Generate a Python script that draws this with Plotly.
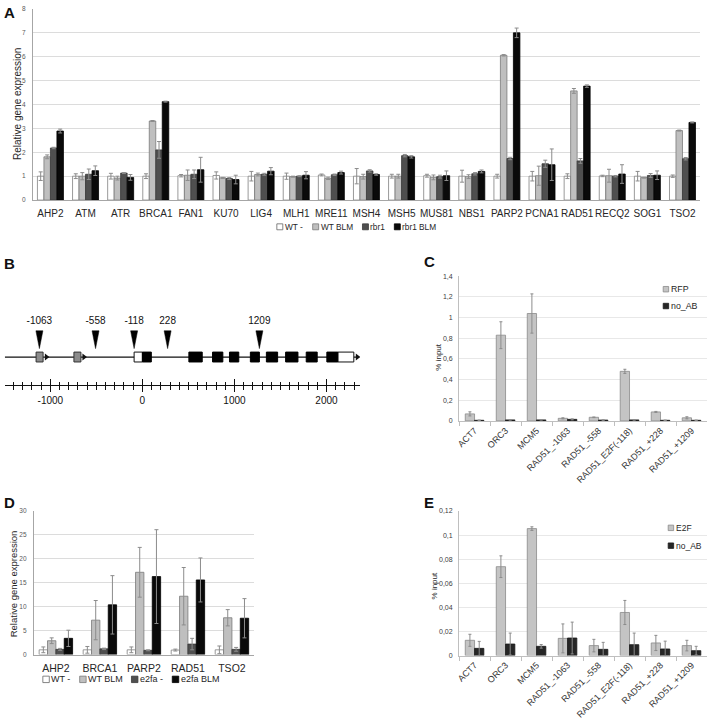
import plotly.graph_objects as go

W, H = 709, 720
FONT = "Liberation Sans, Arial, sans-serif"

# ---------------- Panel A data ----------------
genes_a = ["AHP2", "ATM", "ATR", "BRCA1", "FAN1", "KU70", "LIG4", "MLH1", "MRE11", "MSH4",
           "MSH5", "MUS81", "NBS1", "PARP2", "PCNA1", "RAD51", "RECQ2", "SOG1", "TSO2"]
a_wt = [1.0, 1.0, 1.0, 1.0, 1.02, 1.03, 1.0, 1.0, 1.05, 1.0, 1.0, 1.02, 1.0, 1.0, 1.0, 1.0, 1.01, 1.0, 1.0]
a_wt_err = [0.18, 0.1, 0.12, 0.1, 0.05, 0.15, 0.2, 0.13, 0.04, 0.32, 0.08, 0.06, 0.25, 0.08, 0.2, 0.1, 0.03, 0.2, 0.05]
a_wtblm = [1.81, 1.0, 0.92, 3.31, 1.04, 0.93, 1.07, 0.98, 0.91, 0.98, 1.0, 0.95, 0.98, 6.06, 1.02, 4.57, 1.02, 0.94, 2.91]
a_wtblm_err = [0.08, 0.15, 0.08, 0.02, 0.22, 0.02, 0.06, 0.02, 0.05, 0.1, 0.08, 0.1, 0.08, 0.03, 0.4, 0.1, 0.27, 0.02, 0.02]
a_rbr1 = [2.18, 1.08, 1.13, 2.1, 1.08, 0.9, 1.08, 1.0, 1.06, 1.22, 1.86, 0.98, 1.1, 1.74, 1.52, 1.64, 1.0, 1.03, 1.73]
a_rbr1_err = [0.03, 0.22, 0.02, 0.35, 0.18, 0.04, 0.04, 0.02, 0.03, 0.05, 0.05, 0.06, 0.05, 0.05, 0.15, 0.1, 0.03, 0.08, 0.05]
a_rbr1blm = [2.89, 1.23, 0.95, 4.12, 1.27, 0.86, 1.21, 1.04, 1.15, 1.07, 1.81, 1.02, 1.2, 7.0, 1.48, 4.77, 1.09, 1.04, 3.25]
a_rbr1blm_err = [0.08, 0.2, 0.12, 0.02, 0.52, 0.18, 0.15, 0.15, 0.06, 0.03, 0.05, 0.2, 0.06, 0.2, 0.66, 0.05, 0.39, 0.18, 0.02]
names_a = ["WT -", "WT BLM", "rbr1", "rbr1 BLM"]

# ---------------- Panel B data (RAD51 locus, bp) ----------------
promoter_start = [-1155, -744]
promoter_end = [-1079, -668]
utr_start = [-90, 2123]
utr_end = [0, 2297]
exon_start = [0, 505, 762, 946, 1173, 1347, 1556, 1780, 2004]
exon_end = [97, 650, 874, 1047, 1271, 1469, 1690, 1899, 2123]
tss_arrows = [-1043, -635, 2335]
gene_span = [-1495, 2330]
probe_pos = [-1119, -509, -90, 274, 1271]
probe_labels = ["-1063", "-558", "-118", "228", "1209"]
b_major_ticks = [-1000, 0, 1000, 2000]
b_major_labels = ["-1000", "0", "1000", "2000"]

# ---------------- Panel C data ----------------
chip_sites = ["ACT7", "ORC3", "MCM5", "RAD51_-1063", "RAD51_-558", "RAD51_E2F(-118)", "RAD51_+228", "RAD51_+1209"]
c_rfp = [0.068, 0.83, 1.04, 0.025, 0.035, 0.48, 0.087, 0.03]
c_rfp_err = [0.02, 0.13, 0.19, 0.005, 0.003, 0.02, 0.005, 0.01]
c_noab = [0.006, 0.01, 0.01, 0.015, 0.008, 0.01, 0.006, 0.006]
c_noab_err = [0.002, 0.003, 0.002, 0.005, 0.002, 0.003, 0.002, 0.002]
names_c = ["RFP", "no_AB"]

# ---------------- Panel D data ----------------
genes_d = ["AHP2", "BRCA1", "PARP2", "RAD51", "TSO2"]
d_wt = [1.0, 1.0, 1.0, 0.95, 1.0]
d_wt_err = [0.6, 0.7, 0.6, 0.2, 0.8]
d_wtblm = [2.9, 7.2, 17.2, 12.2, 7.7]
d_wtblm_err = [0.6, 4.1, 5.2, 6.0, 1.7]
d_e2fa = [1.1, 1.2, 0.9, 2.2, 1.1]
d_e2fa_err = [0.2, 0.15, 0.1, 1.2, 0.4]
d_e2fablm = [3.4, 10.4, 16.3, 15.6, 7.6]
d_e2fablm_err = [1.7, 6.1, 9.8, 4.6, 4.1]
names_d = ["WT -", "WT BLM", "e2fa -", "e2fa BLM"]

# ---------------- Panel E data ----------------
e_e2f = [0.0127, 0.0738, 0.1054, 0.0143, 0.0083, 0.0358, 0.0105, 0.0083]
e_e2f_err = [0.005, 0.009, 0.0015, 0.012, 0.0052, 0.010, 0.0063, 0.0044]
e_noab = [0.006, 0.0096, 0.0077, 0.0146, 0.0052, 0.0091, 0.0055, 0.0041]
e_noab_err = [0.0058, 0.0091, 0.0015, 0.0132, 0.0058, 0.0096, 0.0065, 0.0036]
names_e = ["E2F", "no_AB"]

# ---------------- styles ----------------
FILL4 = ["#ffffff", "#bfbfbf", "#4f4f4f", "#0a0a0a"]
LINE4 = ["#808080", "#7a7a7a", "#3a3a3a", "#000000"]
FILL2 = ["#c4c4c4", "#262626"]
LINE2 = ["#8a8a8a", "#1a1a1a"]
ERRC = "#8c8c8c"
GRID = "#dcdcdc"


def px2x(p):
    return p / W


def px2y(p):
    return 1 - p / H


fig = go.Figure()


def add_bars(cats, series, errs, xa, ya, width, offsets, fills, lines, ew=2):
    for vals, err, off, fc, lc in zip(series, errs, offsets, fills, lines):
        fig.add_trace(go.Bar(
            x=cats, y=vals, xaxis=xa, yaxis=ya, width=width, offset=off,
            marker=dict(color=fc, line=dict(color=lc, width=0.8)),
            error_y=dict(type="data", array=err, color=ERRC, thickness=1, width=ew),
            showlegend=False, hoverinfo="skip"))


# Panel A
add_bars(genes_a, [a_wt, a_wtblm, a_rbr1, a_rbr1blm],
         [a_wt_err, a_wtblm_err, a_rbr1_err, a_rbr1blm_err],
         "x", "y", 0.185, [-0.37, -0.185, 0.0, 0.185], FILL4, LINE4, ew=2)

# Panel C
add_bars(chip_sites, [c_rfp, c_noab], [c_rfp_err, c_noab_err], "x4", "y4", 0.3, [-0.3, 0.0],
         FILL2, LINE2, ew=1.5)

# Panel D
add_bars(genes_d, [d_wt, d_wtblm, d_e2fa, d_e2fablm],
         [d_wt_err, d_wtblm_err, d_e2fa_err, d_e2fablm_err],
         "x5", "y5", 0.19, [-0.38, -0.19, 0.0, 0.19], FILL4, LINE4, ew=2)

# Panel E
add_bars(chip_sites, [e_e2f, e_noab], [e_e2f_err, e_noab_err], "x6", "y6", 0.3, [-0.3, 0.0],
         FILL2, LINE2, ew=1.5)

# ---------------- Panel B drawing ----------------
LINE_Y = 28.0
BOX_H = 5.0
TRI_TOP, TRI_TIP, TRI_HALF = 54.5, 36.5, 38
LABEL_Y = 63.5

fig.add_trace(go.Scatter(x=gene_span, y=[LINE_Y, LINE_Y], xaxis="x2", yaxis="y2", mode="lines",
                         line=dict(color="#111111", width=1.2), showlegend=False, hoverinfo="skip"))
shapes = []
for s, e in zip(promoter_start, promoter_end):
    shapes.append(dict(type="rect", xref="x2", yref="y2", x0=s, x1=e, y0=LINE_Y - BOX_H, y1=LINE_Y + BOX_H,
                       fillcolor="#8c8c8c", line=dict(color="#333333", width=1), layer="above"))
for s, e in zip(utr_start, utr_end):
    shapes.append(dict(type="rect", xref="x2", yref="y2", x0=s, x1=e, y0=LINE_Y - BOX_H, y1=LINE_Y + BOX_H,
                       fillcolor="#ffffff", line=dict(color="#111111", width=1), layer="above"))
for s, e in zip(exon_start, exon_end):
    shapes.append(dict(type="rect", xref="x2", yref="y2", x0=s, x1=e, y0=LINE_Y - BOX_H, y1=LINE_Y + BOX_H,
                       fillcolor="#000000", line=dict(color="#000000", width=1), layer="above"))

fig.add_trace(go.Scatter(x=tss_arrows, y=[LINE_Y] * len(tss_arrows), xaxis="x2", yaxis="y2", mode="markers",
                         marker=dict(symbol="triangle-right", size=6, color="#111111"),
                         showlegend=False, hoverinfo="skip"))

tx, ty = [], []
for p in probe_pos:
    tx += [p - TRI_HALF, p + TRI_HALF, p, p - TRI_HALF, None]
    ty += [TRI_TOP, TRI_TOP, TRI_TIP, TRI_TOP, None]
fig.add_trace(go.Scatter(x=tx, y=ty, xaxis="x2", yaxis="y2", mode="lines", fill="toself",
                         fillcolor="#000000", line=dict(color="#000000", width=0.5),
                         showlegend=False, hoverinfo="skip"))
fig.add_trace(go.Scatter(x=probe_pos, y=[LABEL_Y] * len(probe_pos), xaxis="x2", yaxis="y2", mode="text",
                         text=probe_labels, textfont=dict(family=FONT, size=10, color="#111111"),
                         cliponaxis=False, showlegend=False, hoverinfo="skip"))
fig.add_trace(go.Scatter(x=[0], y=[0], xaxis="x3", yaxis="y2", mode="markers",
                         marker=dict(opacity=0), showlegend=False, hoverinfo="skip"))

# ---------------- axes ----------------
CAT_FONT_ROT = dict(family=FONT, size=9, color="#333333")
layout = dict(
    width=W, height=H, margin=dict(l=0, r=0, t=0, b=0),
    paper_bgcolor="white", plot_bgcolor="rgba(0,0,0,0)", hovermode=False,
    barmode="overlay", separators=",.", font=dict(family=FONT, color="#262626"),
    # A
    xaxis=dict(domain=[px2x(30), px2x(700)], anchor="y", type="category", categoryarray=genes_a,
               range=[-0.5, len(genes_a) - 0.5], showline=True, linecolor="#a6a6a6", linewidth=1,
               ticks="", tickangle=0, tickfont=dict(family=FONT, size=10, color="#262626"),
               ticklabelstandoff=4, showgrid=False),
    yaxis=dict(domain=[px2y(198), px2y(5)], anchor="x", range=[0, 8], dtick=1,
               showline=True, linecolor="#a6a6a6", linewidth=1, gridcolor=GRID, gridwidth=1,
               tickfont=dict(family=FONT, size=6.5, color="#595959"), ticks="", ticklabelstandoff=5,
               zeroline=False),
    # B
    xaxis2=dict(domain=[px2x(1.8), px2x(358.6)], anchor="y2", range=[-1495, 2365],
                showline=True, linecolor="#111111", linewidth=1.3, showgrid=False, zeroline=False,
                tickvals=b_major_ticks, ticktext=b_major_labels, ticks="outside", ticklen=6,
                tickwidth=1.3, tickcolor="#111111", tickfont=dict(family=FONT, size=10, color="#111111"),
                minor=dict(dtick=100, tick0=0, ticks="outside", ticklen=4, tickwidth=1, tickcolor="#111111",
                           showgrid=False)),
    xaxis3=dict(domain=[px2x(1.8), px2x(358.6)], anchor="y2", overlaying="x2", side="bottom",
                range=[-1495, 2365], showline=False, showgrid=False, zeroline=False,
                tickvals=b_major_ticks, showticklabels=False, ticks="inside", ticklen=6, tickwidth=1.3,
                tickcolor="#111111",
                minor=dict(dtick=100, tick0=0, ticks="inside", ticklen=3, tickwidth=1, tickcolor="#111111",
                           showgrid=False)),
    yaxis2=dict(domain=[px2y(384.5), px2y(318.5)], anchor="x2", range=[0, 66], visible=False),
    # C
    xaxis4=dict(domain=[px2x(458), px2x(707)], anchor="y4", type="category", categoryarray=chip_sites,
                range=[-0.5, len(chip_sites) - 0.5], showline=True, linecolor="#bfbfbf", linewidth=1,
                ticks="outside", tickson="boundaries", ticklen=4, tickcolor="#bfbfbf", tickangle=-45,
                tickfont=CAT_FONT_ROT, showgrid=False),
    yaxis4=dict(domain=[px2y(421), px2y(275)], anchor="x4", range=[0, 1.4], dtick=0.2,
                showline=True, linecolor="#bfbfbf", gridcolor="#e8e8e8", zeroline=False,
                tickfont=dict(family=FONT, size=7, color="#404040"), ticks="", ticklabelstandoff=4),
    # D
    xaxis5=dict(domain=[px2x(31), px2x(252)], anchor="y5", type="category", categoryarray=genes_d,
                range=[-0.5, len(genes_d) - 0.5], showline=True, linecolor="#a6a6a6", linewidth=1,
                ticks="", tickangle=0, tickfont=dict(family=FONT, size=10.5, color="#262626"),
                ticklabelstandoff=4, showgrid=False),
    yaxis5=dict(domain=[px2y(657), px2y(512)], anchor="x5", range=[0, 30], dtick=5,
                showline=True, linecolor="#a6a6a6", gridcolor=GRID, zeroline=False,
                tickfont=dict(family=FONT, size=6.5, color="#595959"), ticks="", ticklabelstandoff=5),
    # E
    xaxis6=dict(domain=[px2x(458), px2x(707)], anchor="y6", type="category", categoryarray=chip_sites,
                range=[-0.5, len(chip_sites) - 0.5], showline=True, linecolor="#bfbfbf", linewidth=1,
                ticks="outside", tickson="boundaries", ticklen=4, tickcolor="#bfbfbf", tickangle=-45,
                tickfont=CAT_FONT_ROT, showgrid=False),
    yaxis6=dict(domain=[px2y(658), px2y(512)], anchor="x6", range=[0, 0.12], dtick=0.02,
                showline=True, linecolor="#bfbfbf", gridcolor="#e8e8e8", zeroline=False,
                tickfont=dict(family=FONT, size=7, color="#404040"), ticks="", ticklabelstandoff=4),
)

annotations = []


def ann(text, x, y, size, bold=False, angle=0, xanchor="center", color="#111111"):
    annotations.append(dict(text=("<b>%s</b>" % text) if bold else text, x=px2x(x), y=px2y(y),
                            xref="paper", yref="paper", showarrow=False, textangle=angle,
                            xanchor=xanchor, yanchor="middle", borderpad=0,
                            font=dict(family=FONT, size=size, color=color)))


ann("A", 7, 9, 15, bold=True)
ann("B", 7, 262, 15, bold=True)
ann("C", 428, 260, 15, bold=True)
ann("D", 7, 503, 15, bold=True)
ann("E", 428, 503, 15, bold=True)

ann("Relative gene expression", 14, 101, 10, angle=-90, color="#262626")
ann("% input", 437, 357, 8, angle=-90, color="#262626")
ann("Relative gene expression", 10, 585, 9.5, angle=-90, color="#262626")
ann("% input", 433, 588, 8, angle=-90, color="#262626")


def legend(names, fills, lines, xs, ys, sw, size, gap=1.0):
    for n, f, l, x, y in zip(names, fills, lines, xs, ys):
        shapes.append(dict(type="rect", xref="paper", yref="paper",
                           x0=px2x(x), x1=px2x(x + sw), y0=px2y(y + sw / 2), y1=px2y(y - sw / 2),
                           fillcolor=f, line=dict(color=l if f != "#ffffff" else "#666666", width=0.8)))
        ann(n, x + sw + gap, y, size, xanchor="left", color="#262626")


legend(names_a, FILL4, LINE4, [275, 311, 361, 393], [225] * 4, 6, 8.3)
legend(names_d, FILL4, LINE4, [40, 77, 129, 170], [682] * 4, 6.5, 9)
legend(names_c, FILL2, LINE2, [663, 663], [288, 305], 5.5, 8.8)
legend(names_e, FILL2, LINE2, [668, 668], [529, 547], 5.5, 8.5)

layout["annotations"] = annotations
layout["shapes"] = shapes
fig.update_layout(**layout)

# remove the browser's default 8px page margin so the figure sits at the window origin
fig.write_html("out.html", config={"displayModeBar": False, "staticPlot": True},
               post_script="document.body.style.margin='0px';")
